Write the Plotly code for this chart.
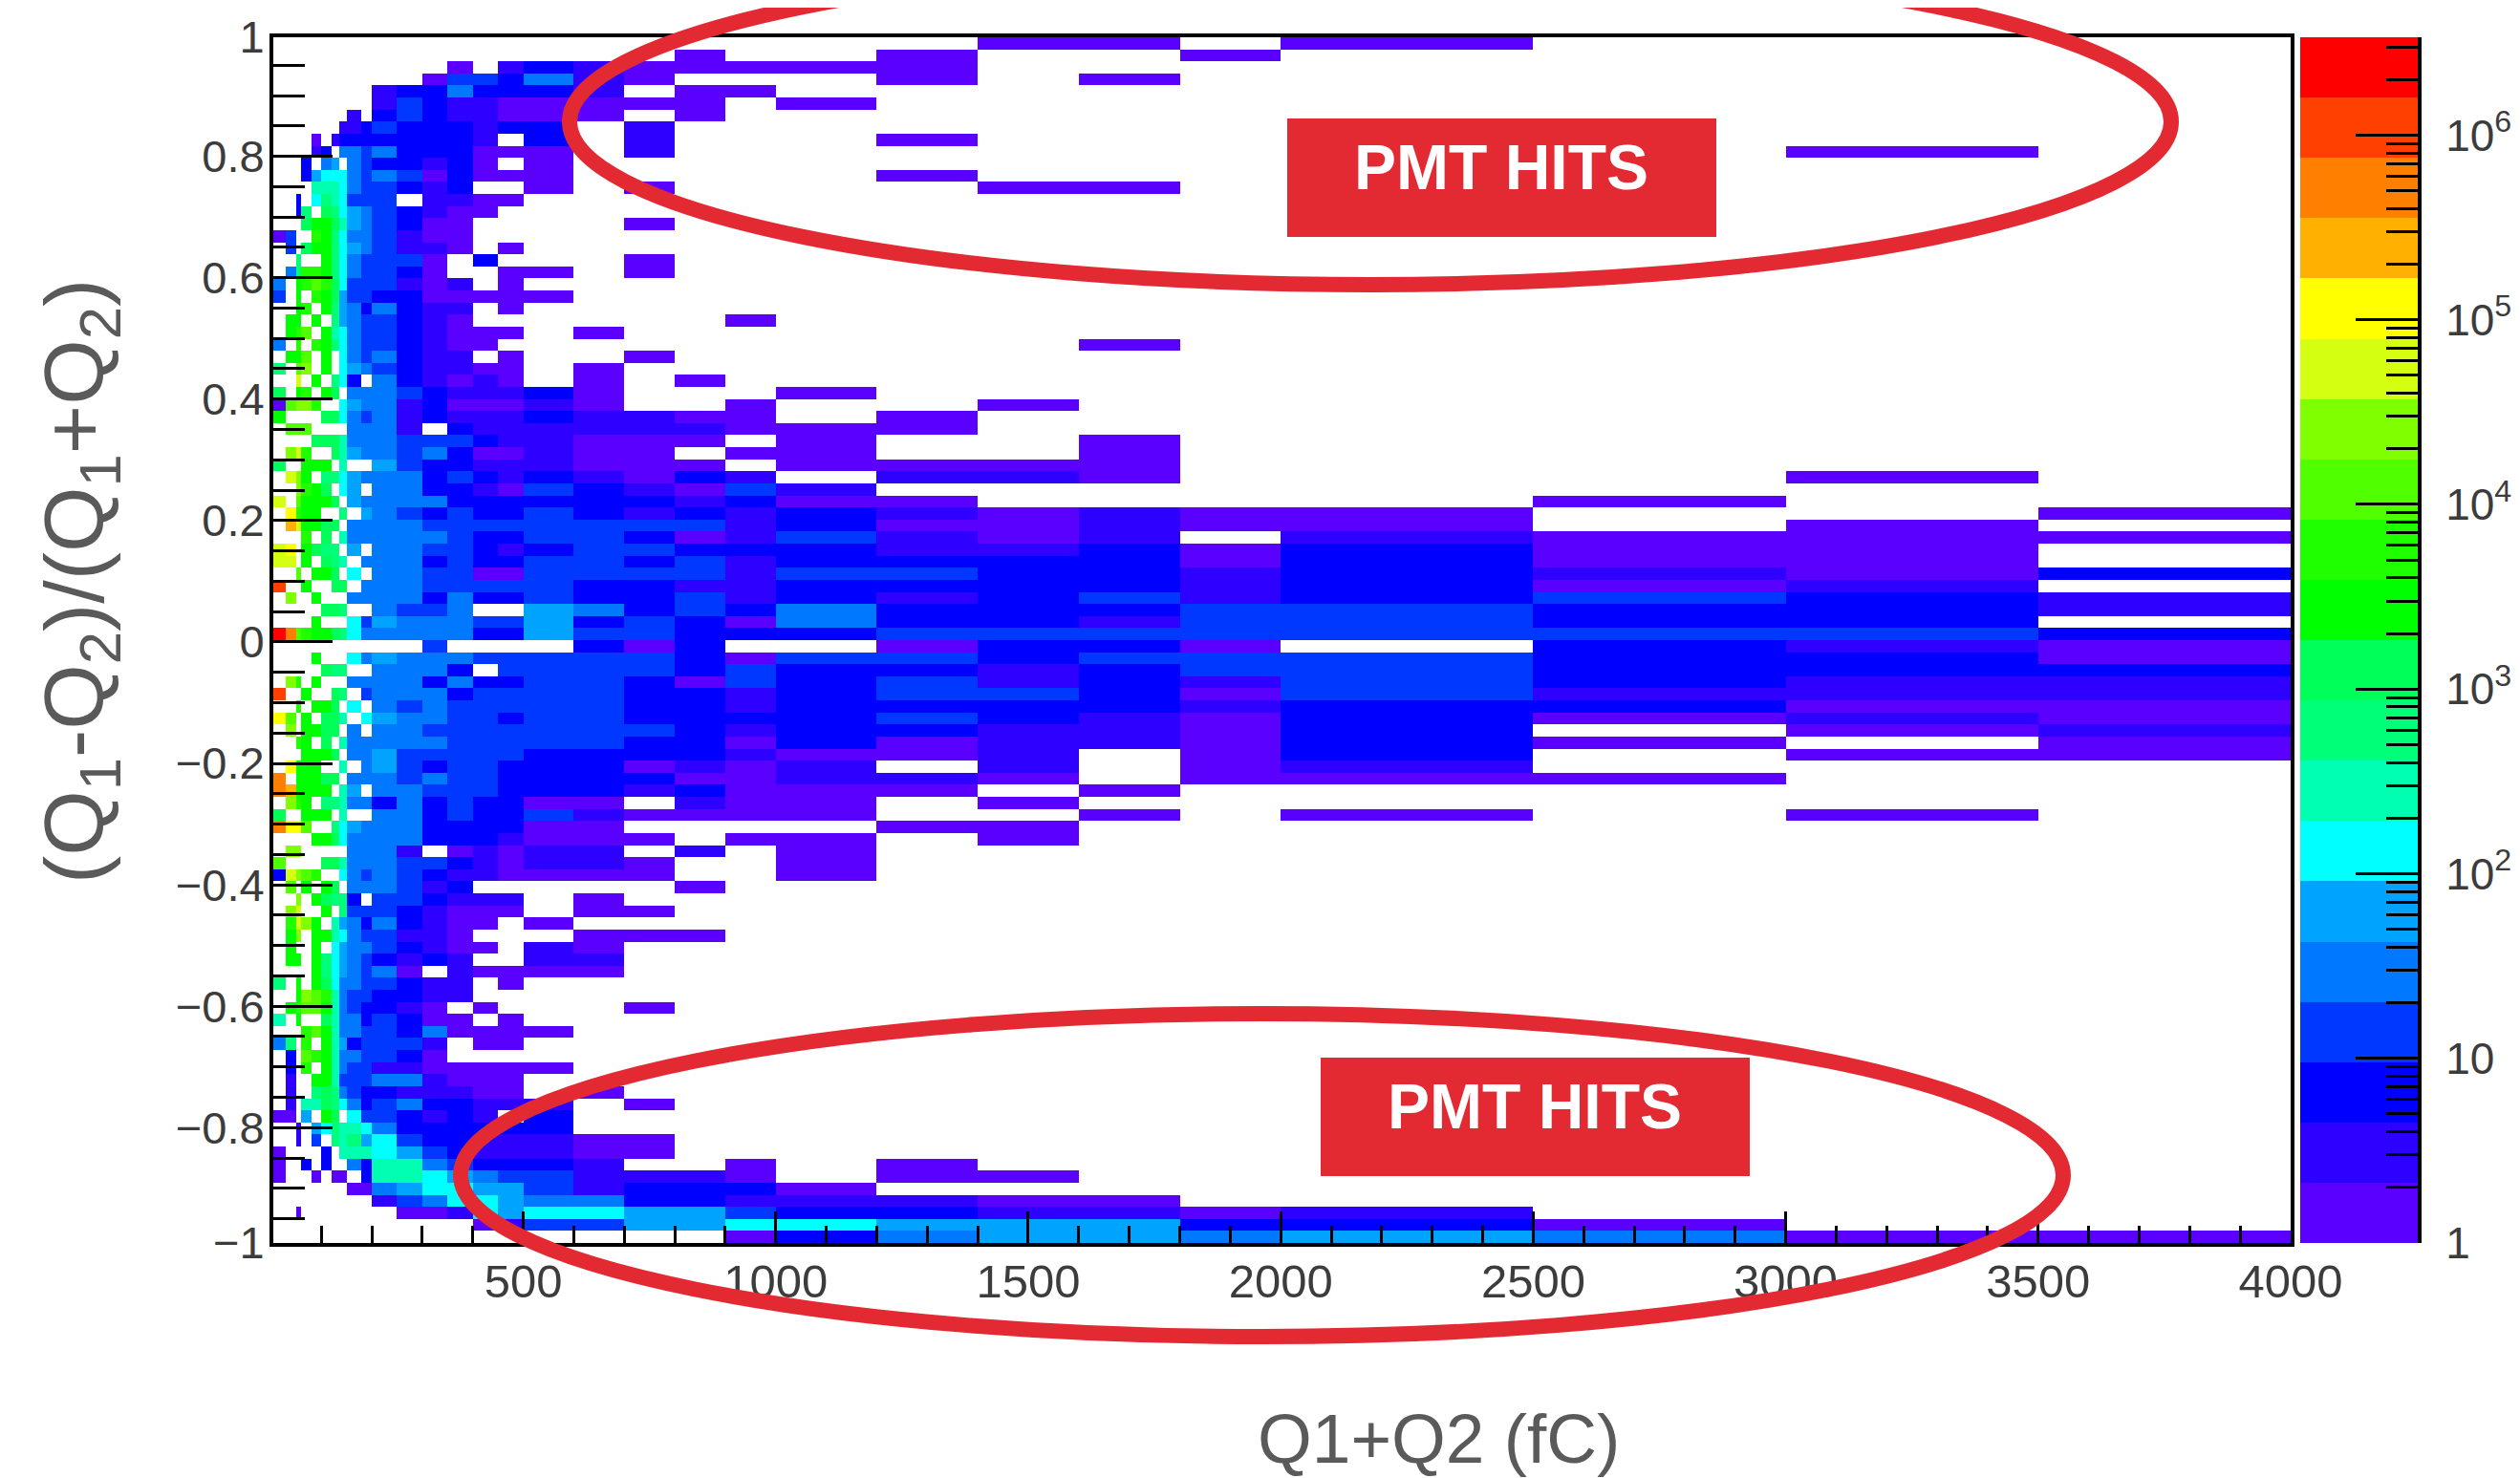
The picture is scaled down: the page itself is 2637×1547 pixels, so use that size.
import plotly.graph_objects as go

# Bin edges of the 2D histogram (fC)
X_EDGES = [5,30,50,60,80,100,120,135,150,180,200,250,300,350,400,450,500,600,700,800,
           900,1000,1200,1400,1600,1800,2000,2500,3000,3500,4000]
Y_MIN = -0.99
Y_MAX = 0.996

# Colour-band index per cell (base-36 digit, '.' = empty). Rows top to bottom, groups: c0-9 c10-16 c17-21 c22-29
ROWS = [
".......... ....... ..... .00.0...",
".......... ....... ..0.. 0..0....",
".......... ...0.12 10000 0.......",
".......... ..03324 10... 0.0.....",
".......... 1224222 1.00. ........",
".......... 1321100 000.0 ........",
"........1. 2321100 0.0.. ........",
".......112 3222122 .1... ........",
"....0.1222 22221.2 .1... 0.......",
"....12.443 4222000 .1... ......0.",
"...2.45.43 22120.0 ..... ........",
"...2566643 4302000 ..... 0.......",
"....777643 3212..0 .0... .00.....",
"..2.687633 3.1100. ..... ........",
"..28.98654 32100.. ..... ........",
"...9aa9754 3200... .0... ........",
"03..ba8644 3100... ..... ........",
".3.9aa8654 3110.0. ..... ........",
"..8..a8643 330.2.. .0... ........",
".48bba8643 320..00 .0... ........",
"4.abcb9633 3101.0. ..... ........",
"3.a.ba9533 2200000 ..... ........",
"..ab.a8542 4211.0. ..... ........",
".aa.a.8543 3210... ...0. ........",
".abc.a7643 321000. 0.... ........",
"4.b.ba8643 32100.. ..... ..0.....",
".aac.a.643 4211.0. .0... ........",
"8.cd.a.654 321100. 0.... ........",
"..e.a.862. 421010. 0.0.. ........",
"9.ab.a9.44 4321112 0...0 ........",
"0cddb..654 4120001 0..0. .0......",
"a....99643 4121112 1100. 0.......",
".ccc....44 41.2111 11100 0.......",
"....999744 4333211 000.0 ..0.....",
".deb..9754 4342001 00.00 ..0.....",
"9..aaa.7.. 5322111 000.0 000.....",
".eda.88654 4423212 1021. 110...0.",
"..dba9.65. 4422103 21031 ........",
"e.caaa9.54 4442222 22120 0....0..",
".fbaa..8.5 4323223 21212 10100..0",
".geaa99.44 4433333 33312 00100.0.",
"...b.9.744 4443223 32013 101.1000",
"ef.a988.5. 4433212 33222 1120200.",
"ee.a.987.4 4423223 32312 2220200.",
"..c.aa9.6. 4433003 33313 32212102",
"i..a..99.4 4433333 22112 2221201.",
".d..a...44 4424223 22312 12312321",
".....998.. 4334..5 42324 22233221",
"....a...63 5444335 23204 2213322.",
"jhcbaa9864 4444225 33222 33333332",
".......... ..3.... 202.. 0220.210",
"....a...64 5444333 33203 32333220",
".....988.. 4442.33 33232 21233222",
".db.a...44 4424223 32032 31213211",
"i..a..98.3 4442333 32212 33203111",
"..b.aa9.6. 4343333 32212 22212200",
"fc.a.997.6 5443323 32222 32102010",
".d.aa99.4. 4433333 33212 21102.01",
"..ba.9.744 4443333 32202 011020.0",
"...aaa9.44 5333332 22210 01.02.00",
".faaa..7.4 5323322 20101 .1.01...",
"h.aaa99.44 4343322 22001 10.000..",
"hgaaaa.75. 4433322 21200 0.0.....",
".dba.88744 2423220 0.100 .0......",
"9..aaa.7.. 4423223 10000 ..0.0.0.",
"hffc..8654 4422220 0.... 00......",
"....aa9644 4422210 00.00 .0......",
".dd.....44 41.0101 1.1.0 ........",
"c....99744 4332101 10..0 ........",
"2edcb..643 4321100 00..0 ........",
".c.a.a9.44 4312... ..0.. ........",
"..d.a9882. 332111. 0.... ........",
".de..a.833 321000. 00... ........",
".beda.7542 42100.0 ..... ........",
".ad.aa7643 3110... 000.. ........",
".a..a.6544 32100.1 0.... ........",
".aa.a86543 2121..1 1.... ........",
"....a86543 40.1000 0.... ........",
"8.a.a96443 3211.0. ..... ........",
"..adcb7433 2211... ..... ........",
".abcca7432 210.0.. .0... ........",
"7.a..97442 3200.0. ..... ........",
"...bca7443 3240000 ..... ........",
"48.b.a7523 331.00. ..... ........",
".2.cba7443 320.... ..... ........",
".2.b.a7433 1100000 ..... ........",
".1..aa7333 441000. ..... ........",
".1..898432 211100. 0.... ........",
".1.7798642 3422111 .0... ........",
"00.5.a9.63 32121.2 ..... ........",
"..1.568776 4222222 ..... ........",
"..1.3.8785 6322111 00... ........",
"0....2.777 6532111 00... ........",
"0..2.2..42 7743222 1..0. 0.......",
"0...0.00.2 7765433 1110. 00......",
"........00 4566553 12220 ........",
".......... 1346654 42211 100.....",
"..0....... .001656 65532 21101...",
".......... ....013 35566 555220..",
".......... ....... ...02 45545400",
]

# Colour bands of the palette, bottom to top
BAND_COLORS = ["#5a00ff","#2e00ff","#0000ff","#0038ff","#0078ff","#00a4ff","#00ffff","#00ffb0",
               "#00ff78","#00ff58","#00ff00","#20ff00","#50ff00","#80ff00","#d4ff10","#ffff00",
               "#ffb000","#ff8000","#ff4000","#ff0000"]
Z_MIN_LOG = 0.0
Z_MAX_LOG = 6.53

Y_TICK_VALS = [-0.99, -0.8, -0.6, -0.4, -0.2, 0, 0.2, 0.4, 0.6, 0.8, 0.996]
Y_TICK_TEXT = ["\u22121", "\u22120.8", "\u22120.6", "\u22120.4", "\u22120.2", "0", "0.2", "0.4", "0.6", "0.8", "1"]
CBAR_MAJOR = [1, 10, 100, 1000, 10000, 100000, 1000000]
CBAR_LABELS = ["1", "10", "10<sup>2</sup>", "10<sup>3</sup>", "10<sup>4</sup>", "10<sup>5</sup>", "10<sup>6</sup>"]
CBAR_MINOR = [k * d for d in [1, 10, 100, 1000, 10000, 100000] for k in range(2, 10)] + [2000000, 3000000]

PAGE_PAD = 8  # the page adds this margin round the figure
W, H = 2637 - PAGE_PAD, 1547 - PAGE_PAD
PX_L, PX_R, PX_T, PX_B = 286, 2397, 39, 1301
CB_L, CB_R = 2407, 2530
FONT = "Liberation Sans, Helvetica, Arial, sans-serif"
TICK_COLOR = "#3c3c3c"
TITLE_COLOR = "#5a5a5a"
RED = "#e32a33"

n_bands = len(BAND_COLORS)
step = (Z_MAX_LOG - Z_MIN_LOG) / n_bands
scale = []
for i, c in enumerate(BAND_COLORS):
    scale += [[i / n_bands, c], [(i + 1) / n_bands, c]]

def level_to_log(ch):
    return None if ch == "." else Z_MIN_LOG + (int(ch, 36) + 0.5) * step

rows = [r.replace(" ", "") for r in ROWS]
n_rows = len(rows)
y_edges = [Y_MIN + (Y_MAX - Y_MIN) * i / n_rows for i in range(n_rows + 1)]
z_log = [[level_to_log(c) for c in r] for r in reversed(rows)]

fig = go.Figure()
fig.add_trace(go.Heatmap(x=X_EDGES, y=y_edges, z=z_log, colorscale=scale, zmin=Z_MIN_LOG, zmax=Z_MAX_LOG,
                         showscale=False, hoverongaps=False, xaxis="x", yaxis="y"))

band_edges = [10 ** (Z_MIN_LOG + i * step) for i in range(n_bands + 1)]
band_vals = [[Z_MIN_LOG + (i + 0.5) * step] for i in range(n_bands)]
fig.add_trace(go.Heatmap(x=[0, 1], y=band_edges, z=band_vals, colorscale=scale, zmin=Z_MIN_LOG, zmax=Z_MAX_LOG,
                         showscale=False, xaxis="x2", yaxis="y2"))

fx = lambda p: (p - PAGE_PAD) / W
fy = lambda p: 1 - (p - PAGE_PAD) / H

common = dict(showline=True, linecolor="black", linewidth=4, mirror=True, showgrid=False, zeroline=False,
              ticks="inside", tickcolor="black", automargin=False)

fig.update_layout(
    width=W, height=H, margin=dict(l=0, r=0, t=0, b=0, autoexpand=False), paper_bgcolor="white", plot_bgcolor="white",
    showlegend=False, font=dict(family=FONT),
    xaxis=dict(domain=[fx(PX_L), fx(PX_R)], range=[X_EDGES[0], X_EDGES[-1]], tickmode="linear", tick0=0, dtick=500,
               ticklen=33, tickwidth=3, minor=dict(dtick=100, tick0=0, ticklen=18, tickwidth=3, tickcolor="black", ticks="inside"),
               tickfont=dict(family=FONT, size=49, color=TICK_COLOR), ticklabelstandoff=-6,
               anchor="y", **common),
    yaxis=dict(domain=[fy(PX_B), fy(PX_T)], range=[Y_MIN, Y_MAX], tickmode="array", tickvals=Y_TICK_VALS, ticktext=Y_TICK_TEXT,
               ticklen=62, tickwidth=3, minor=dict(dtick=0.05, tick0=-1, ticklen=33, tickwidth=3, tickcolor="black", ticks="inside"),
               tickfont=dict(family=FONT, size=47, color=TICK_COLOR), ticklabelstandoff=-4,
               anchor="x", **common),
    xaxis2=dict(domain=[fx(CB_L), fx(CB_R)], range=[0, 1], showticklabels=False, ticks="", showgrid=False,
                zeroline=False, showline=False, anchor="y2", automargin=False),
    yaxis2=dict(domain=[fy(PX_B), fy(PX_T)], type="log", range=[Z_MIN_LOG, Z_MAX_LOG], side="right", anchor="x2",
                tickmode="array", tickvals=CBAR_MAJOR, ticktext=CBAR_LABELS, ticks="inside", ticklen=65, tickwidth=3,
                tickcolor="black", showgrid=False, zeroline=False, showline=True, linecolor="black", linewidth=4,
                automargin=False, ticklabelstandoff=16, tickfont=dict(family=FONT, size=46, color=TICK_COLOR),
                minor=dict(tickmode="array", tickvals=CBAR_MINOR, ticks="inside", ticklen=33, tickwidth=3, tickcolor="black")),
    shapes=[
        dict(type="circle", xref="paper", yref="paper", x0=fx(596), x1=fx(2272), y0=fy(298), y1=fy(-43),
             line=dict(color=RED, width=16), fillcolor="rgba(0,0,0,0)", layer="above"),
        dict(type="circle", xref="paper", yref="paper", x0=fx(482), x1=fx(2159), y0=fy(1399), y1=fy(1061),
             line=dict(color=RED, width=16), fillcolor="rgba(0,0,0,0)", layer="above"),
        dict(type="rect", xref="paper", yref="paper", x0=fx(1347), x1=fx(1796), y0=fy(248), y1=fy(124),
             line=dict(width=0), fillcolor=RED, layer="above"),
        dict(type="rect", xref="paper", yref="paper", x0=fx(1382), x1=fx(1831), y0=fy(1231), y1=fy(1107),
             line=dict(width=0), fillcolor=RED, layer="above"),
    ],
    annotations=[
        dict(text="<b>PMT HITS</b>", xref="paper", yref="paper", x=fx(1571), y=fy(175), xanchor="center", yanchor="middle",
             showarrow=False, font=dict(family=FONT, size=66, color="white")),
        dict(text="<b>PMT HITS</b>", xref="paper", yref="paper", x=fx(1606), y=fy(1158), xanchor="center", yanchor="middle",
             showarrow=False, font=dict(family=FONT, size=66, color="white")),
        dict(text="Q1+Q2 (fC)", xref="paper", yref="paper", x=fx(1505), y=fy(1505), xanchor="center", yanchor="middle",
             showarrow=False, font=dict(family=FONT, size=73, color=TITLE_COLOR)),
        dict(text="(Q<sub>1</sub>-Q<sub>2</sub>)/(Q<sub>1</sub>+Q<sub>2</sub>)", xref="paper", yref="paper",
             x=fx(84), y=fy(609), xanchor="center", yanchor="middle", textangle=-90,
             showarrow=False, font=dict(family=FONT, size=88, color=TITLE_COLOR)),
    ],
)

fig.write_html("out.html")
